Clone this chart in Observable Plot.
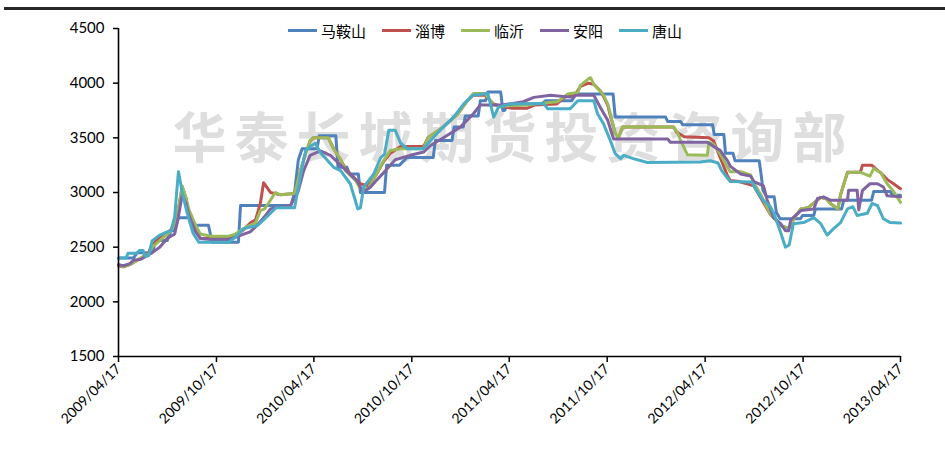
<!DOCTYPE html>
<html>
<head>
<meta charset="utf-8">
<script src="https://cdn.jsdelivr.net/npm/d3@7"></script>
<script src="https://cdn.jsdelivr.net/npm/@observablehq/plot@0.6"></script>
<style>
  html, body { margin: 0; padding: 0; background: #fff; }
  #wrap { position: relative; width: 945px; height: 454px; overflow: hidden; font-family: Lato, "Noto Sans CJK SC", sans-serif; }
  #topline { position: absolute; left: 4px; top: 7px; width: 941px; height: 3px; background: #262626; }
  #legend { position: absolute; left: 288px; top: 20px; display: flex; align-items: center; font-family: "Noto Sans CJK SC", sans-serif; font-size: 15px; color: #000; }
  .item { display: flex; align-items: center; margin-right: 16px; }
  .swatch { width: 29px; height: 3px; margin-right: 4px; }
</style>
</head>
<body>
<div id="wrap">
  <div id="topline"></div>
  <div id="chart"></div>
  <div id="legend"></div>
</div>
<script>
// Weekly price series (week index since 2009/04/17, price)
const cities = ["马鞍山", "淄博", "临沂", "安阳", "唐山"];
const colors = ["#4F81BD", "#C0504D", "#9BBB59", "#8064A2", "#4BACC6"];
const yTicks = [1500, 2000, 2500, 3000, 3500, 4000, 4500];
const xTickLabels = ["2009/04/17","2009/10/17","2010/04/17","2010/10/17","2011/04/17","2011/10/17","2012/04/17","2012/10/17","2013/04/17"];
const watermark = "华泰长城期货投资咨询部";

const maanshan = [[0,2400],[4,2400],[5,2450],[9,2450],[10,2560],[13,2560],[14,2650],[15,2650],[16,2770],[19,2770],[19.5,2700],[24,2700],[25,2545],[32,2545],[32.5,2880],[46,2880],[47,3000],[48,3300],[49,3400],[53,3400],[53.5,3520],[58,3520],[58.5,3230],[61,3230],[61.5,3170],[64,3170],[64.5,3000],[71,3000],[71.5,3250],[75,3250],[77,3320],[84,3320],[84.5,3475],[89,3475],[89.5,3600],[92,3600],[92.5,3700],[96,3700],[96.5,3840],[98,3840],[98.5,3920],[102,3920],[102.5,3750],[103,3750],[104,3810],[113,3810],[114,3840],[121,3840],[122,3900],[132,3900],[132.5,3690],[146,3690],[146.5,3650],[150,3650],[150.5,3620],[158.5,3620],[159,3530],[161.5,3530],[162,3360],[164,3360],[164.5,3290],[171,3290],[171.5,3150],[172,3020],[173,2960],[175,2960],[175.5,2820],[176.5,2760],[182,2760],[182.5,2790],[185.5,2790],[186,2850],[193,2850],[193.5,2930],[201,2930],[201.5,3010],[206,3010],[206.5,2975],[208.7,2975]];

const zibo = [[0,2330],[1.3,2320],[3,2340],[5,2380],[6,2400],[8,2450],[9,2520],[11,2590],[13,2630],[14,2660],[15,2720],[16,2850],[17,3050],[18,2950],[18.7,2830],[20.5,2650],[21.9,2580],[29.4,2580],[31.2,2600],[33.4,2660],[35.2,2720],[36.6,2750],[37.9,2900],[38.7,3090],[39.5,3050],[40.6,3000],[41.9,2990],[43.2,2980],[47,2990],[48.6,3200],[49.9,3350],[51.2,3470],[52,3500],[56,3500],[57.4,3400],[59.3,3300],[60.6,3220],[63.3,3120],[64.6,3080],[66.5,3060],[68.6,3150],[70.7,3280],[72.6,3360],[75.3,3420],[81.4,3420],[82.5,3500],[86.7,3600],[90.5,3720],[93.1,3840],[94.7,3890],[97.9,3890],[100.1,3810],[102,3790],[105,3770],[109,3770],[111,3800],[117,3810],[119,3870],[122,3900],[123.3,3970],[125.4,4000],[126.8,3990],[128.6,3930],[129.4,3880],[130.5,3800],[131.3,3700],[132.6,3540],[133.4,3500],[134.5,3600],[148.1,3600],[149,3550],[151,3510],[157.5,3500],[158.8,3470],[160.6,3320],[162.5,3150],[163.3,3110],[165.5,3100],[168.7,3070],[169.5,3060],[171.4,2950],[174,2800],[176.7,2700],[178,2680],[179.4,2680],[180.2,2760],[182.1,2850],[184,2860],[187.4,2955],[189,2940],[190,2900],[192,2850],[192.7,2980],[194.6,3185],[198,3185],[198.5,3250],[201,3250],[202,3220],[203.4,3180],[205.2,3120],[206.8,3080],[208.7,3035]];

const linyi = [[0,2340],[1.3,2320],[3,2340],[5,2380],[6,2400],[8,2440],[9,2500],[11,2560],[13,2620],[14,2650],[15,2720],[16,2850],[17,3060],[18,2950],[18.7,2850],[20.5,2700],[21.9,2620],[24.6,2600],[29.4,2600],[31.2,2620],[33.9,2680],[36.6,2720],[37.9,2835],[39,2850],[40.6,2930],[41.9,3000],[43.2,2980],[47,2990],[48.6,3200],[49.9,3350],[51.2,3470],[52,3500],[56,3500],[57.4,3400],[59.3,3300],[60.6,3200],[63.3,3110],[64.6,3035],[66.5,3035],[68.6,3150],[70.7,3290],[72.6,3385],[75.3,3400],[81.4,3400],[82.5,3500],[86.7,3600],[90.5,3720],[93.1,3840],[94.7,3905],[97.9,3905],[100.1,3800],[102,3790],[109.2,3800],[110.8,3810],[117.2,3830],[119.8,3900],[122.5,3915],[123.3,3980],[125.4,4040],[126,4050],[126.8,3990],[127.8,3950],[128.6,3930],[129.4,3890],[130.5,3810],[131.3,3720],[132.6,3540],[133.4,3500],[134.5,3600],[148.1,3600],[149.2,3550],[150,3480],[151.9,3345],[157.2,3340],[157.5,3460],[158.8,3440],[160.6,3355],[162.5,3230],[163.3,3190],[166,3190],[168.7,3160],[169.5,3090],[171.4,2980],[174,2800],[176.7,2700],[178,2680],[179.4,2680],[180.2,2760],[182.1,2850],[184,2860],[187.4,2955],[189,2940],[190,2900],[192,2850],[192.7,2980],[194.6,3185],[198,3185],[200.6,3150],[201.5,3220],[203.4,3180],[205.2,3080],[206.8,3010],[208.7,2910]];

const anyang = [[0,2340],[1.3,2330],[3,2350],[4,2380],[6,2390],[9,2450],[11,2500],[13,2580],[15,2620],[16,2780],[17,2980],[18,2900],[18.7,2800],[20.5,2640],[21.9,2580],[24.6,2570],[29.4,2570],[31.2,2590],[33.4,2620],[35.2,2640],[37,2700],[39,2780],[40.6,2850],[41.9,2860],[45.9,2880],[47.8,3000],[49.4,3200],[51.2,3340],[53.9,3380],[56.6,3340],[59.3,3250],[61.4,3180],[63.8,3100],[65.1,3000],[67.3,3050],[68.6,3100],[71.3,3200],[73.9,3300],[77.9,3340],[81.4,3370],[83.3,3430],[86.7,3500],[91.3,3600],[94.7,3720],[96.6,3800],[102,3800],[104.6,3810],[108,3830],[110.8,3870],[115.3,3890],[121.4,3870],[122,3890],[126.8,3890],[128.6,3780],[130.5,3660],[132.1,3490],[146.5,3490],[147.3,3460],[157.2,3460],[158.8,3420],[160.6,3385],[162.5,3290],[163.3,3240],[166,3170],[168.7,3150],[169.5,3100],[172.2,3060],[173.2,2930],[174.8,2770],[176.7,2715],[178,2650],[178.8,2650],[179.4,2750],[182.1,2835],[185.5,2850],[186.6,2945],[188.2,2960],[190,2930],[194.6,2930],[194.9,3020],[197.2,3020],[197.5,2840],[198.6,3020],[200.6,3080],[202.6,3080],[204.2,3050],[205.2,2970],[208.7,2960]];

const tangshan = [[0,2400],[2,2400],[2.5,2445],[5,2445],[5.5,2470],[6.5,2470],[7,2420],[8,2420],[9,2560],[11,2610],[13,2640],[14,2650],[15,2780],[15.7,3080],[16,3190],[17,3000],[18.4,2800],[19.8,2630],[21.4,2545],[29.4,2545],[31.2,2590],[33.4,2670],[37.1,2700],[38.7,2750],[40.6,2810],[42,2860],[47,2860],[48,3050],[49.4,3300],[50,3385],[51.2,3420],[52.6,3450],[53.9,3365],[55.8,3290],[57.4,3230],[59.3,3200],[61.9,3080],[63,2950],[63.8,2850],[64.6,2860],[65.4,3050],[68.1,3170],[70,3320],[71,3350],[72.1,3570],[73.9,3570],[75.3,3450],[77.1,3400],[81.4,3400],[83.3,3475],[85.9,3570],[89.4,3690],[92.1,3810],[94.5,3890],[98.5,3905],[100.1,3690],[101.4,3780],[104.6,3810],[113.4,3815],[114.5,3765],[120.6,3765],[122.5,3840],[126.8,3840],[127.8,3720],[129.4,3630],[131.3,3475],[132.6,3355],[134,3310],[134.8,3340],[137.4,3310],[141.2,3275],[155.3,3280],[158,3290],[160,3270],[161,3200],[162.5,3130],[163.3,3100],[169,3095],[171,2980],[172,2930],[174,2870],[175,2800],[176.5,2650],[178,2500],[179,2520],[180.2,2715],[182.9,2725],[185.5,2770],[187.4,2715],[189.2,2610],[190.9,2670],[192.7,2725],[194.6,2850],[196,2870],[197.2,2790],[199.9,2810],[201.1,2900],[202.6,2880],[204.2,2760],[206,2725],[208.7,2720]];

const seriesValues = [maanshan, zibo, linyi, anyang, tangshan];

const parseDay = d3.utcParse("%Y/%m/%d");
const start = parseDay(xTickLabels[0]);
const end = parseDay(xTickLabels[xTickLabels.length - 1]);
const toDate = w => d3.utcDay.offset(start, Math.round(w * 7));

const rows = cities.map((city, i) => seriesValues[i].map(([w, v]) => ({city, date: toDate(w), value: v})));

const chart = Plot.plot({
  width: 945,
  height: 454,
  marginLeft: 118,
  marginRight: 45,
  marginTop: 28,
  marginBottom: 98,
  style: {fontFamily: "Lato, sans-serif", fontSize: "15px", color: "#000", background: "transparent"},
  x: {type: "utc", domain: [start, end]},
  y: {domain: [1500, 4500]},
  marks: [
    Plot.text([watermark], {frameAnchor: "middle", dx: 4, dy: -52, text: d => d, fontSize: 54, fontWeight: "bold", fontFamily: "Noto Sans CJK SC", fill: "#dedede"}),
    ...rows.map((r, i) => Plot.line(r, {x: "date", y: "value", stroke: colors[i], strokeWidth: 3, strokeLinejoin: "round", strokeLinecap: "round"})),
    Plot.axisY({ticks: yTicks, tickSize: 5, tickPadding: 9, tickFormat: d => String(d), label: null, stroke: "#000", strokeWidth: 1.5, fontSize: 15}),
    Plot.axisX({ticks: xTickLabels.map(parseDay), tickFormat: d3.utcFormat("%Y/%m/%d"), tickSize: 6, tickPadding: 4, tickRotate: -45, label: null, stroke: "#000", strokeWidth: 1.5, fontSize: 14}),
    Plot.ruleY([1500], {stroke: "#000", strokeWidth: 1.6}),
    Plot.ruleX([start], {stroke: "#000", strokeWidth: 1.6})
  ]
});

d3.select(chart).selectAll("text").filter(function() { return this.textContent === watermark; }).style("letter-spacing", "8px");
document.getElementById("chart").appendChild(chart);

const legend = document.getElementById("legend");
cities.forEach((c, i) => {
  const it = document.createElement("div");
  it.className = "item";
  const sw = document.createElement("div");
  sw.className = "swatch";
  sw.style.background = colors[i];
  const tx = document.createElement("span");
  tx.textContent = c;
  it.appendChild(sw); it.appendChild(tx);
  legend.appendChild(it);
});
</script>
</body>
</html>
